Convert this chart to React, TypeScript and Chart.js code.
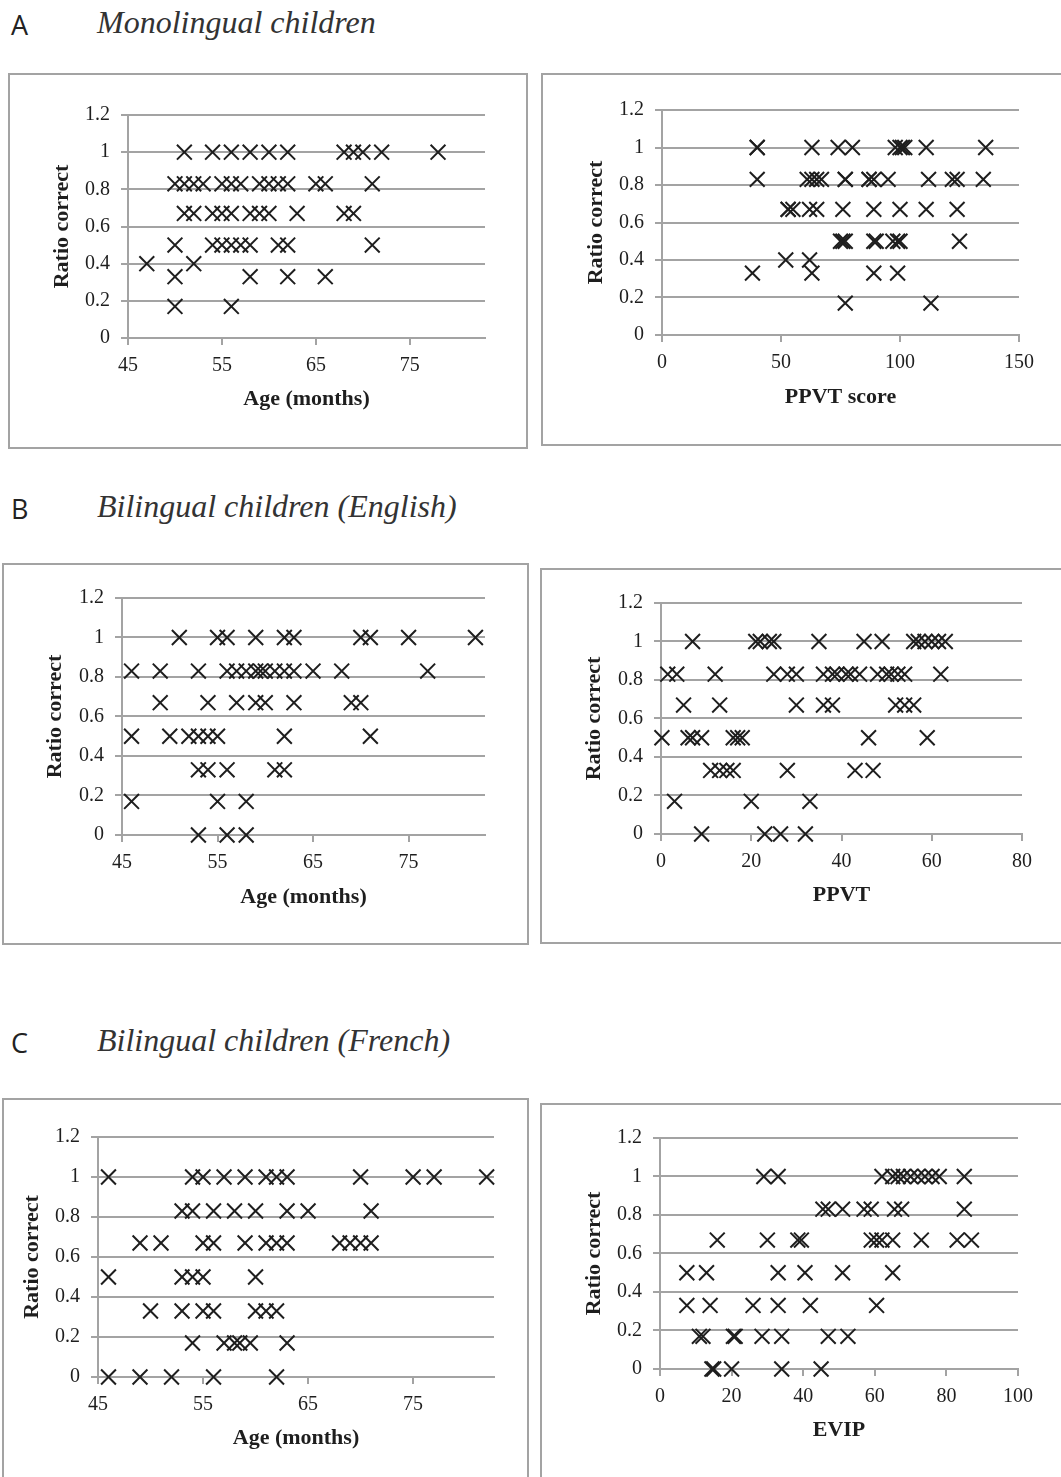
import React, { useEffect, useRef } from "react";
import { Chart, registerables } from "chart.js";

Chart.register(...registerables);

// ---------- tick labels ----------
const ratioTicks = [0, 0.2, 0.4, 0.6, 0.8, 1, 1.2];
const ageTicks = [45, 55, 65, 75];
const ppvtScoreTicks = [0, 50, 100, 150];
const ppvtTicks = [0, 20, 40, 60, 80];
const evipTicks = [0, 20, 40, 60, 80, 100];

// ---------- A: Monolingual children ----------
const monoAgeX = [
  51, 54, 56, 58, 60, 62, 68, 69, 70, 72, 78,
  50, 51, 52, 53, 55, 56, 57, 59, 60, 61, 62, 65, 66, 71,
  51, 52, 54, 55, 56, 58, 59, 60, 63, 68, 69,
  50, 54, 55, 56, 57, 58, 61, 62, 71,
  47, 52,
  50, 58, 62, 66,
  50, 56,
];
const monoAgeY = [
  1, 1, 1, 1, 1, 1, 1, 1, 1, 1, 1,
  0.83, 0.83, 0.83, 0.83, 0.83, 0.83, 0.83, 0.83, 0.83, 0.83, 0.83, 0.83, 0.83, 0.83,
  0.67, 0.67, 0.67, 0.67, 0.67, 0.67, 0.67, 0.67, 0.67, 0.67, 0.67,
  0.5, 0.5, 0.5, 0.5, 0.5, 0.5, 0.5, 0.5, 0.5,
  0.4, 0.4,
  0.33, 0.33, 0.33, 0.33,
  0.17, 0.17,
];
const monoPpvtX = [
  40, 40, 63, 74, 80, 98, 100, 101, 102, 111, 136,
  40, 61, 63, 65, 67, 77, 77, 87, 87, 89, 95, 112, 122, 124, 135,
  53, 53, 55, 62, 65, 76, 89, 100, 111, 124,
  75, 76, 77, 89, 90, 97, 99, 100, 125,
  52, 62,
  38, 63, 89, 99,
  77, 113,
];
const monoPpvtY = [
  1, 1, 1, 1, 1, 1, 1, 1, 1, 1, 1,
  0.83, 0.83, 0.83, 0.83, 0.83, 0.83, 0.83, 0.83, 0.83, 0.83, 0.83, 0.83, 0.83, 0.83, 0.83,
  0.67, 0.67, 0.67, 0.67, 0.67, 0.67, 0.67, 0.67, 0.67, 0.67,
  0.5, 0.5, 0.5, 0.5, 0.5, 0.5, 0.5, 0.5, 0.5,
  0.4, 0.4,
  0.33, 0.33, 0.33, 0.33,
  0.17, 0.17,
];

// ---------- B: Bilingual children (English) ----------
const biEngAgeX = [
  51, 55, 56, 59, 62, 63, 70, 71, 75, 82,
  46, 49, 53, 56, 57, 58, 59, 59.5, 60, 61, 62, 63, 65, 68, 77,
  49, 54, 57, 59, 60, 63, 69, 70,
  46, 50, 52, 53, 54, 55, 62, 71,
  53, 54, 56, 61, 62,
  46, 55, 58,
  53, 56, 58,
];
const biEngAgeY = [
  1, 1, 1, 1, 1, 1, 1, 1, 1, 1,
  0.83, 0.83, 0.83, 0.83, 0.83, 0.83, 0.83, 0.83, 0.83, 0.83, 0.83, 0.83, 0.83, 0.83, 0.83,
  0.67, 0.67, 0.67, 0.67, 0.67, 0.67, 0.67, 0.67,
  0.5, 0.5, 0.5, 0.5, 0.5, 0.5, 0.5, 0.5,
  0.33, 0.33, 0.33, 0.33, 0.33,
  0.17, 0.17, 0.17,
  0, 0, 0,
];
const biEngPpvtX = [
  7, 21, 22, 24, 25, 35, 45, 49, 56, 57, 58.5, 60, 61.5, 63,
  1.5, 3.5, 12, 25, 28, 30, 36, 38, 39, 41, 42, 44, 48, 50, 51, 52.5, 54, 62,
  5, 13, 30, 36, 38, 52, 54, 56,
  0.2, 6, 7, 9, 16, 17, 18, 46, 59,
  11, 13, 14.6, 16, 28, 43, 47,
  3, 20, 33,
  9, 23, 26.5, 32,
];
const biEngPpvtY = [
  1, 1, 1, 1, 1, 1, 1, 1, 1, 1, 1, 1, 1, 1,
  0.83, 0.83, 0.83, 0.83, 0.83, 0.83, 0.83, 0.83, 0.83, 0.83, 0.83, 0.83, 0.83, 0.83, 0.83, 0.83, 0.83, 0.83,
  0.67, 0.67, 0.67, 0.67, 0.67, 0.67, 0.67, 0.67,
  0.5, 0.5, 0.5, 0.5, 0.5, 0.5, 0.5, 0.5, 0.5,
  0.33, 0.33, 0.33, 0.33, 0.33, 0.33, 0.33,
  0.17, 0.17, 0.17,
  0, 0, 0, 0,
];

// ---------- C: Bilingual children (French) ----------
const biFrAgeX = [
  46, 54, 55, 57, 59, 61, 62, 63, 70, 75, 77, 82,
  53, 54, 56, 58, 60, 63, 65, 71,
  49, 51, 55, 56, 59, 61, 62, 63, 68, 69, 70, 71,
  46, 53, 54, 55, 60,
  50, 53, 55, 56, 60, 61, 62,
  54, 57, 58, 58.5, 59.5, 63,
  46, 49, 52, 56, 62,
];
const biFrAgeY = [
  1, 1, 1, 1, 1, 1, 1, 1, 1, 1, 1, 1,
  0.83, 0.83, 0.83, 0.83, 0.83, 0.83, 0.83, 0.83,
  0.67, 0.67, 0.67, 0.67, 0.67, 0.67, 0.67, 0.67, 0.67, 0.67, 0.67, 0.67,
  0.5, 0.5, 0.5, 0.5, 0.5,
  0.33, 0.33, 0.33, 0.33, 0.33, 0.33, 0.33,
  0.17, 0.17, 0.17, 0.17, 0.17, 0.17,
  0, 0, 0, 0, 0,
];
const biFrEvipX = [
  29, 33, 62, 65, 66.5, 68, 70, 72, 74, 76, 78, 85,
  45.5, 47, 51, 57, 59, 65.5, 67.5, 85,
  16, 30, 38.5, 39.5, 59, 60.5, 62, 65, 73, 83, 87,
  7.5, 13, 33, 40.5, 51, 65,
  7.5, 14, 26, 33, 42, 60.5,
  11, 12, 20.5, 21, 28.5, 34, 47, 52.5,
  14.5, 15, 20, 34, 45,
];
const biFrEvipY = [
  1, 1, 1, 1, 1, 1, 1, 1, 1, 1, 1, 1,
  0.83, 0.83, 0.83, 0.83, 0.83, 0.83, 0.83, 0.83,
  0.67, 0.67, 0.67, 0.67, 0.67, 0.67, 0.67, 0.67, 0.67, 0.67, 0.67,
  0.5, 0.5, 0.5, 0.5, 0.5, 0.5,
  0.33, 0.33, 0.33, 0.33, 0.33, 0.33,
  0.17, 0.17, 0.17, 0.17, 0.17, 0.17, 0.17, 0.17,
  0, 0, 0, 0, 0,
];

// ---------- styling / layout ----------
const SERIF = "'Liberation Serif', 'Times New Roman', serif";
const GRID = "#a3a3a3";
const INK = "#1e1e1e";
const BORDER = 2;
const TITLE_SIZE = 22;
const TICK_SIZE = 20;

type PanelCfg = {
  box: { x: number; y: number; w: number; h: number };
  plot: { l: number; t: number; r: number; b: number };
  yTitleX: number;
  xTitleY: number;
  xMin: number;
  xMax: number;
  xTicks: number[];
  xTitle: string;
  xs: number[];
  ys: number[];
};

const panels: PanelCfg[] = [
  {
    box: { x: 8, y: 73, w: 520, h: 376 },
    plot: { l: 128, t: 115, r: 485, b: 338 },
    yTitleX: 62, xTitleY: 399,
    xMin: 45, xMax: 83, xTicks: ageTicks, xTitle: "Age (months)",
    xs: monoAgeX, ys: monoAgeY,
  },
  {
    box: { x: 541, y: 73, w: 530, h: 373 },
    plot: { l: 662, t: 110, r: 1019, b: 335 },
    yTitleX: 596, xTitleY: 397,
    xMin: 0, xMax: 150, xTicks: ppvtScoreTicks, xTitle: "PPVT score",
    xs: monoPpvtX, ys: monoPpvtY,
  },
  {
    box: { x: 2, y: 563, w: 527, h: 382 },
    plot: { l: 122, t: 598, r: 485, b: 835 },
    yTitleX: 55, xTitleY: 897,
    xMin: 45, xMax: 83, xTicks: ageTicks, xTitle: "Age (months)",
    xs: biEngAgeX, ys: biEngAgeY,
  },
  {
    box: { x: 540, y: 568, w: 531, h: 376 },
    plot: { l: 661, t: 603, r: 1022, b: 834 },
    yTitleX: 594, xTitleY: 895,
    xMin: 0, xMax: 80, xTicks: ppvtTicks, xTitle: "PPVT",
    xs: biEngPpvtX, ys: biEngPpvtY,
  },
  {
    box: { x: 2, y: 1098, w: 527, h: 390 },
    plot: { l: 98, t: 1137, r: 494, b: 1377 },
    yTitleX: 32, xTitleY: 1438,
    xMin: 45, xMax: 82.7, xTicks: ageTicks, xTitle: "Age (months)",
    xs: biFrAgeX, ys: biFrAgeY,
  },
  {
    box: { x: 540, y: 1103, w: 531, h: 385 },
    plot: { l: 660, t: 1138, r: 1018, b: 1369 },
    yTitleX: 594, xTitleY: 1430,
    xMin: 0, xMax: 100, xTicks: evipTicks, xTitle: "EVIP",
    xs: biFrEvipX, ys: biFrEvipY,
  },
];

const headings = [
  { letter: "A", title: "Monolingual children", y: 25 },
  { letter: "B", title: "Bilingual children (English)", y: 509 },
  { letter: "C", title: "Bilingual children (French)", y: 1043 },
];

function Panel({ cfg }: { cfg: PanelCfg }) {
  const ref = useRef<HTMLCanvasElement>(null);
  const cw = cfg.box.w - 2 * BORDER;
  const ch = cfg.box.h - 2 * BORDER;

  useEffect(() => {
    if (!ref.current) return;
    const cx = cfg.box.x + BORDER;
    const cy = cfg.box.y + BORDER;
    const titleHalf = (TITLE_SIZE * 1.2) / 2;
    const padLeft = cfg.yTitleX - cx - titleHalf;
    const padTop = cfg.plot.t - cy;
    const padRight = cx + cw - cfg.plot.r;
    const padBottom = cy + ch - cfg.xTitleY - titleHalf;
    const yWidth = cfg.plot.l - cx - padLeft;
    const xHeight = cy + ch - padBottom - cfg.plot.b;

    const titleFont = { family: SERIF, size: TITLE_SIZE, weight: "bold" as const, lineHeight: 1.2 };
    const tickFont = { family: SERIF, size: TICK_SIZE, lineHeight: 1.2 };

    const chart = new Chart(ref.current, {
      type: "scatter",
      data: {
        datasets: [
          {
            data: cfg.xs.map((x, i) => ({ x, y: cfg.ys[i] })),
            pointStyle: "crossRot",
            pointRadius: 10.5,
            pointHoverRadius: 10.5,
            pointBorderWidth: 2,
            borderColor: INK,
            backgroundColor: INK,
            clip: false,
          } as any,
        ],
      },
      options: {
        responsive: false,
        animation: false,
        events: [],
        layout: { padding: { left: padLeft, top: padTop, right: padRight, bottom: padBottom } },
        plugins: { legend: { display: false }, tooltip: { enabled: false } },
        scales: {
          x: {
            type: "linear",
            min: cfg.xMin,
            max: cfg.xMax,
            afterBuildTicks: (s: any) => {
              s.ticks = cfg.xTicks.map((v) => ({ value: v }));
            },
            afterFit: (s: any) => {
              s.height = xHeight;
            },
            grid: { drawOnChartArea: false, drawTicks: true, tickLength: 7, color: GRID, lineWidth: 2 },
            border: { display: true, color: GRID, width: 2 },
            ticks: {
              padding: 9,
              color: INK,
              font: tickFont,
              autoSkip: false,
              maxRotation: 0,
              callback: (v: any) => String(v),
            },
            title: { display: true, text: cfg.xTitle, font: titleFont, color: INK, padding: 0 },
          },
          y: {
            type: "linear",
            min: 0,
            max: 1.2,
            afterBuildTicks: (s: any) => {
              s.ticks = ratioTicks.map((v) => ({ value: v }));
            },
            afterFit: (s: any) => {
              s.width = yWidth;
            },
            grid: { drawOnChartArea: true, drawTicks: true, tickLength: 7, color: GRID, lineWidth: 2 },
            border: { display: true, color: GRID, width: 2 },
            ticks: {
              padding: 11,
              color: INK,
              font: tickFont,
              autoSkip: false,
              callback: (v: any) => String(Math.round(Number(v) * 10) / 10),
            },
            title: { display: true, text: "Ratio correct", font: titleFont, color: INK, padding: 0 },
          },
        },
      },
    });
    return () => chart.destroy();
  }, [cfg]);

  return (
    <div
      style={{
        position: "absolute",
        left: cfg.box.x,
        top: cfg.box.y,
        width: cfg.box.w,
        height: cfg.box.h,
        boxSizing: "border-box",
        border: `${BORDER}px solid ${GRID}`,
        background: "#fff",
      }}
    >
      <canvas ref={ref} width={cw} height={ch} style={{ display: "block", width: cw, height: ch }} />
    </div>
  );
}

export default function App() {
  return (
    <div
      style={{
        position: "absolute",
        left: 0,
        top: 0,
        width: 1061,
        height: 1477,
        overflow: "hidden",
        background: "#fff",
      }}
    >
      {headings.map((h) => (
        <React.Fragment key={h.letter}>
          <div
            style={{
              position: "absolute",
              left: 11,
              top: h.y - 14,
              fontFamily: "'Open Sans', 'Noto Sans', sans-serif",
              fontSize: 27,
              lineHeight: "27px",
              color: "#222",
            }}
          >
            {h.letter}
          </div>
          <div
            style={{
              position: "absolute",
              left: 97,
              top: h.y - 19,
              fontFamily: SERIF,
              fontStyle: "italic",
              fontSize: 32,
              lineHeight: "32px",
              color: "#333",
              whiteSpace: "nowrap",
            }}
          >
            {h.title}
          </div>
        </React.Fragment>
      ))}
      {panels.map((p, i) => (
        <Panel key={i} cfg={p} />
      ))}
    </div>
  );
}
